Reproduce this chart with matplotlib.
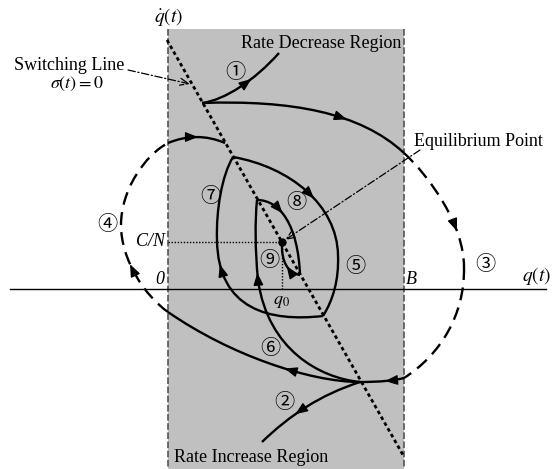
import matplotlib
matplotlib.use("Agg")
import matplotlib.pyplot as plt
from matplotlib.path import Path
from matplotlib.patches import PathPatch, Rectangle
from matplotlib.bezier import BezierSegment
import numpy as np

plt.rcParams['mathtext.fontset'] = 'stix'
plt.rcParams['font.family'] = ['Liberation Serif', 'DejaVu Serif']

# ---------------- data (diagram coordinates, image-like units) ----------------
region_q = [168, 404]          # q = 0 and q = B (rate-decrease / increase band)
region_top = 29
axis_y = 289                   # q(t) axis
axis_q = [10, 546]
switch_q = [167, 403]          # switching line sigma(t)=0
switch_qd = [40, 455]
equilibrium = (282, 242)       # (q0, C/N)

# trajectories as cubic / quadratic Bezier control points
traj1 = [(202, 103), (225, 100), (255, 80), (279, 53)]
traj3_solid = [(202, 103), (290, 100), (360, 112), (404, 153)]
traj3_dash_a = [(404, 153), (430, 177), (464, 225), (464, 267)]
traj3_dash_b = [(464, 267), (465, 315), (440, 355), (404, 378)]
traj3_bottom = [(404, 378), (390, 382), (360, 382)]
traj2 = [(360, 382), (320, 395), (290, 415), (262, 442)]
traj6 = [(360, 382), (310, 382), (230, 355), (168, 312)]
traj4_a = [(168, 312), (145, 296), (121, 260), (121, 225)]
traj4_b = [(121, 225), (121, 190), (145, 155), (168, 143)]
traj4_in = [(168, 143), (197, 131), (225, 143)]
traj5_a = [(233, 157), (290, 167), (337, 205), (338, 255)]
traj5_b = [(338, 255), (339, 280), (333, 300), (323, 316)]
traj7_a = [(323, 316), (270, 322), (218, 310), (217, 240)]
traj7_b = [(217, 240), (216, 210), (222, 175), (233, 157)]
traj_in_a = [(360, 382), (320, 378), (268, 350), (258, 280)]
traj_in_b = [(258, 280), (255, 250), (255, 220), (257, 200)]
traj8 = [(257, 200), (280, 200), (298, 225), (300, 275)]
traj9 = [(300, 275), (288, 273), (281, 262), (282, 242)]

# arrow positions: (curve, parameter t)
solid_arrows = [(traj1, 0.62), (traj3_solid, 0.62), (traj3_bottom, 0.5),
                (traj2, 0.6), (traj6, 0.4), (traj4_in, 0.5), (traj5_a, 0.55),
                (traj7_a, 0.85), (traj_in_b, 0.06), (traj8, 0.4), (traj9, 0.45)]
dash_arrows = [(traj3_dash_a, 0.7), (traj4_a, 0.6)]

circled = ['①', '②', '③', '④', '⑤', '⑥', '⑦', '⑧', '⑨']
circled_pos = [(235, 72), (284, 403), (485, 265), (107, 224), (355, 266),
               (270, 349), (210, 197), (296, 203), (269, 260)]

# ---------------- drawing ----------------
fig = plt.figure(figsize=(5.53, 4.69), dpi=100)
ax = fig.add_axes([0, 0, 1, 1])
ax.set_xlim(0, 553)
ax.set_ylim(469, 0)
ax.axis('off')

ax.add_patch(Rectangle((region_q[0], region_top), region_q[1] - region_q[0],
                       469 - region_top, facecolor='#c0c0c0', edgecolor='none', zorder=0))
for xq in region_q:
    ax.plot([xq, xq], [region_top, 469], color='#555555', lw=1.2,
            dashes=(4, 1.5), zorder=1)

ax.plot(axis_q, [axis_y, axis_y], color='black', lw=1.0, zorder=2)

ax.plot(switch_q, switch_qd, color='black', lw=2.0, dashes=(1.3, 1.1), zorder=3)

# C/N and q0 guide lines
ax.plot([region_q[0], equilibrium[0]], [equilibrium[1]] * 2, color='black',
        lw=1.0, dashes=(1, 1.2), zorder=3)
ax.plot([equilibrium[0]] * 2, [equilibrium[1], axis_y], color='black',
        lw=1.0, dashes=(1, 1.2), zorder=3)


def bez_path(cp):
    codes = [Path.MOVETO] + ([Path.CURVE4] * 3 if len(cp) == 4 else [Path.CURVE3] * 2)
    return Path(cp, codes)


def draw(cp, dashed=False):
    kw = dict(facecolor='none', edgecolor='black', lw=1.7, zorder=4,
              capstyle='butt')
    if dashed:
        kw['linestyle'] = (0, (5.5, 3.2))
    ax.add_patch(PathPatch(bez_path(cp), **kw))


for c in [traj1, traj3_solid, traj3_bottom, traj2, traj6, traj4_in,
          traj5_a, traj5_b, traj7_a, traj7_b, traj_in_a, traj_in_b, traj8, traj9]:
    draw(c)
for c in [traj3_dash_a, traj3_dash_b, traj4_a, traj4_b]:
    draw(c, dashed=True)


def arrow(cp, t):
    seg = BezierSegment(np.array(cp, float))
    p0 = seg.point_at_t(max(t - 0.02, 0))
    p1 = seg.point_at_t(t + 0.02)
    ax.annotate('', xy=p1, xytext=p0,
                arrowprops=dict(arrowstyle='-|>,head_length=0.75,head_width=0.3',
                                color='black', lw=1.0, shrinkA=0, shrinkB=0),
                zorder=5)


for c, t in solid_arrows + dash_arrows:
    arrow(c, t)

ax.plot(*equilibrium, 'o', color='black', ms=5, zorder=6)

# pointers
ax.annotate('', xy=(190, 84), xytext=(128, 70),
            arrowprops=dict(arrowstyle='->,head_length=0.6,head_width=0.25',
                            color='black', lw=0.9, linestyle=(0, (6, 2, 1, 2)),
                            shrinkA=0, shrinkB=0))
ax.annotate('', xy=(285, 240), xytext=(420, 150),
            arrowprops=dict(arrowstyle='->,head_length=0.6,head_width=0.25',
                            color='black', lw=0.9, linestyle=(0, (6, 2, 1, 2)),
                            shrinkA=0, shrinkB=0))

# circled numbers
for s, (x, y) in zip(circled, circled_pos):
    ax.text(x, y, s, fontsize=14.5, ha='center', va='center',
            family=['Noto Sans CJK JP', 'DejaVu Sans'], zorder=7)

fs = 13
ax.text(169, 17, r'$\dot{q}(t)$', fontsize=14, ha='center', va='center')
ax.text(537, 276, r'$q(t)$', fontsize=14, ha='center', va='center')
ax.text(69, 66, 'Switching Line', fontsize=fs, ha='center', va='center')
ax.text(77, 84, r'$\sigma(t)=0$', fontsize=fs, ha='center', va='center')
ax.text(321, 44, 'Rate Decrease Region', fontsize=fs, ha='center', va='center')
ax.text(251, 457, 'Rate Increase Region', fontsize=fs, ha='center', va='center')
ax.text(478, 141, 'Equilibrium Point', fontsize=fs, ha='center', va='center')
ax.text(165, 242, 'C/N', fontsize=fs, style='italic', ha='right', va='center')
ax.text(160, 279, '0', fontsize=fs, style='italic', ha='center', va='center')
ax.text(411, 279, 'B', fontsize=fs, style='italic', ha='center', va='center')
ax.text(281, 302, r'$q_0$', fontsize=fs, ha='center', va='center')

fig.savefig('out.png', dpi=100)
